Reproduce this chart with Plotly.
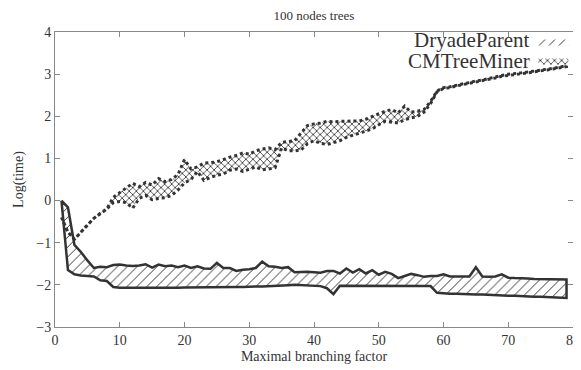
import plotly.graph_objects as go

# ---------------- data ----------------
x_vals = list(range(1, 80))

dryade_upper = [0.0, -0.16, -1.05, -1.22, -1.42, -1.6, -1.57, -1.58, -1.53, -1.52,
                -1.54, -1.55, -1.54, -1.51, -1.59, -1.52, -1.56, -1.54, -1.58, -1.54,
                -1.6, -1.56, -1.61, -1.62, -1.48, -1.6, -1.6, -1.67, -1.64, -1.63,
                -1.6, -1.45, -1.56, -1.57, -1.6, -1.58, -1.7, -1.69, -1.69, -1.7,
                -1.71, -1.67, -1.67, -1.73, -1.61, -1.71, -1.63, -1.73, -1.65, -1.76,
                -1.69, -1.74, -1.84, -1.79, -1.74, -1.77, -1.81, -1.79, -1.79, -1.75,
                -1.8, -1.8, -1.8, -1.8, -1.58, -1.8, -1.81, -1.8, -1.75, -1.83,
                -1.84, -1.84, -1.85, -1.86, -1.86, -1.86, -1.86, -1.87, -1.87]

dryade_lower = [0.0, -1.65, -1.75, -1.78, -1.79, -1.8, -1.89, -1.91, -2.05, -2.07,
                -2.07, -2.07, -2.07, -2.07, -2.07, -2.07, -2.07, -2.07, -2.07, -2.06,
                -2.06, -2.06, -2.06, -2.06, -2.06, -2.06, -2.05, -2.05, -2.05, -2.05,
                -2.04, -2.04, -2.03, -2.03, -2.02, -2.01, -2.0, -2.01, -2.02, -2.02,
                -2.03, -2.08, -2.22, -2.02, -2.02, -2.02, -2.02, -2.02, -2.02, -2.03,
                -2.03, -2.03, -2.03, -2.03, -2.03, -2.03, -2.03, -2.03, -2.19, -2.2,
                -2.21, -2.21, -2.22, -2.22, -2.23, -2.23, -2.24, -2.24, -2.25, -2.26,
                -2.26, -2.27, -2.27, -2.28, -2.28, -2.29, -2.29, -2.3, -2.31]

cm_upper = [-0.4, -0.75, -0.92, -0.75, -0.58, -0.42, -0.3, -0.2, 0.08, 0.2,
            0.3, 0.41, 0.33, 0.43, 0.37, 0.52, 0.45, 0.5, 0.62, 0.97,
            0.75, 0.8, 0.89, 0.9, 0.92, 0.97, 1.03, 1.07, 1.13, 1.1,
            1.18, 1.22, 1.25, 1.21, 1.38, 1.4, 1.42, 1.6, 1.78, 1.82,
            1.84, 1.88, 1.87, 1.88, 1.88, 1.88, 1.89, 1.93, 2.0, 2.06,
            2.12, 2.16, 2.08, 2.24, 2.1, 2.12, 2.16, 2.35, 2.6, 2.68,
            2.7, 2.74, 2.77, 2.8, 2.84, 2.86, 2.9, 2.93, 2.97, 3.0,
            3.01, 3.03, 3.05, 3.07, 3.1, 3.12, 3.14, 3.17, 3.2]

cm_lower = [-0.4, -0.75, -0.92, -0.75, -0.58, -0.42, -0.3, -0.2, -0.05, -0.02,
            -0.05, -0.18, 0.05, 0.12, 0.02, 0.05, 0.07, 0.12, 0.25, 0.42,
            0.5, 0.69, 0.48, 0.55, 0.6, 0.63, 0.72, 0.75, 0.69, 0.75,
            0.8, 0.73, 0.75, 0.78, 1.25, 1.18, 1.18, 1.2, 1.35, 1.42,
            1.36, 1.33, 1.38, 1.42, 1.5, 1.56, 1.6, 1.65, 1.7, 1.8,
            1.88, 1.86, 1.84, 1.92, 1.96, 2.0, 2.1, 2.3, 2.58, 2.66,
            2.68, 2.72, 2.75, 2.78, 2.82, 2.84, 2.88, 2.91, 2.95, 2.98,
            2.99, 3.01, 3.03, 3.05, 3.08, 3.1, 3.12, 3.15, 3.18]

series_names = ["DryadeParent", "CMTreeMiner"]
x_ticks = [0, 10, 20, 30, 40, 50, 60, 70, 80]
y_ticks = [-3, -2, -1, 0, 1, 2, 3, 4]
y_tick_text = ["\u22123", "\u22122", "\u22121", "0", "1", "2", "3", "4"]

# ---------------- figure ----------------
FONT = "Liberation Serif, Times New Roman, serif"
INK = "#333333"
patterns = [dict(shape="/", fgcolor=INK, fgopacity=1, bgcolor="white", size=7, solidity=0.14),
            dict(shape="x", fgcolor=INK, fgopacity=1, bgcolor="white", size=5, solidity=0.3)]

fig = go.Figure()

# DryadeParent band
fig.add_trace(go.Scatter(
    x=x_vals + x_vals[::-1] + [x_vals[0]],
    y=dryade_upper + dryade_lower[::-1] + [dryade_upper[0]],
    mode="lines", fill="toself", fillcolor="white", fillpattern=patterns[0],
    line=dict(color=INK, width=2.5), name=series_names[0], showlegend=False, hoverinfo="skip"))

# CMTreeMiner band
fig.add_trace(go.Scatter(
    x=x_vals + x_vals[::-1],
    y=cm_upper + cm_lower[::-1],
    mode="lines", fill="toself", fillcolor="white", fillpattern=patterns[1],
    line=dict(color=INK, width=3, dash="dot"), name=series_names[1], showlegend=False, hoverinfo="skip"))

# legend swatches (legend-only entries showing the fill patterns)
for i, nm in enumerate(series_names):
    fig.add_trace(go.Scatter(
        x=[None], y=[None], mode="lines", fill="toself", fillcolor="white",
        fillpattern=patterns[i], line=dict(color=INK, width=0), name=" ",
        showlegend=True, hoverinfo="skip"))

# legend labels (text left of swatches, as in the original)
label_y = [0.972, 0.902]
for i, nm in enumerate(series_names):
    fig.add_annotation(text=nm, xref="paper", yref="paper", x=0.92, y=label_y[i],
                       xanchor="right", yanchor="middle", showarrow=False,
                       font=dict(family=FONT, size=21, color=INK))

axis_common = dict(showline=True, linecolor="#888888", linewidth=1, mirror="ticks",
                   ticks="inside", ticklen=5, tickcolor="#888888", showgrid=False,
                   zeroline=False, automargin=False,
                   tickfont=dict(family=FONT, size=14, color=INK))

fig.update_xaxes(range=[0, 80], tickvals=x_ticks, **axis_common,
                 title=dict(text="Maximal branching factor", font=dict(family=FONT, size=14, color=INK),
                            standoff=4))
fig.update_yaxes(range=[-3, 4], tickvals=y_ticks, ticktext=y_tick_text, **axis_common,
                 title=dict(text="Log(time)", font=dict(family=FONT, size=14, color=INK), standoff=9))

fig.update_layout(
    width=573, height=362,
    margin=dict(l=47, r=8, t=24, b=43, autoexpand=False),
    paper_bgcolor="white", plot_bgcolor="white",
    title=dict(text="100 nodes trees", x=0.534, xanchor="center", y=0.98, yanchor="middle",
               font=dict(family=FONT, size=13, color=INK)),
    legend=dict(x=1.016, xanchor="right", y=1.017, yanchor="top", bgcolor="rgba(0,0,0,0)",
                font=dict(family=FONT, size=11), tracegroupgap=0, itemwidth=30),
    showlegend=True,
)

fig.write_html("out.html")
